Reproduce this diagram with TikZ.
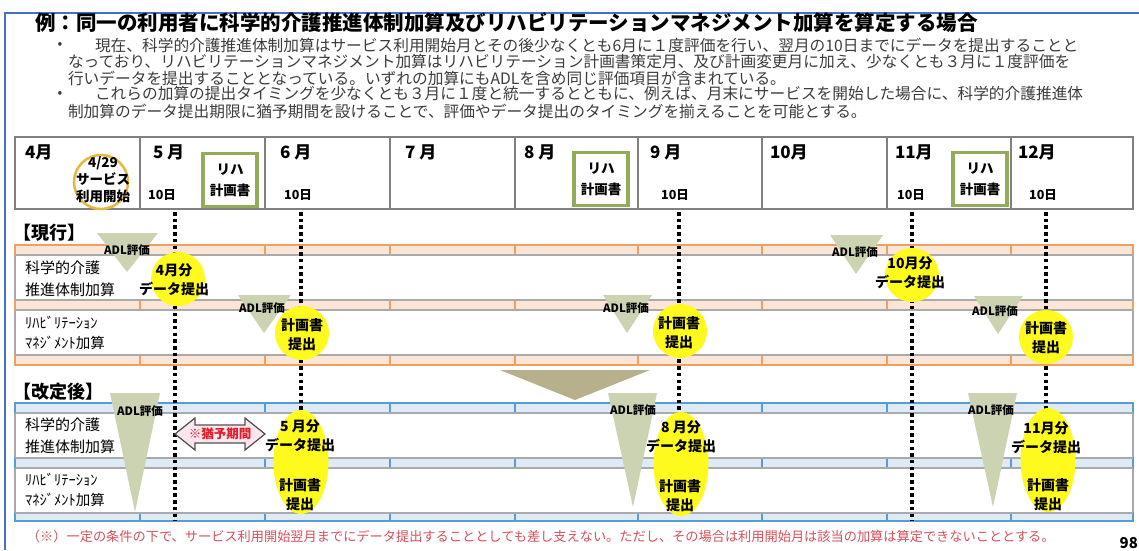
\documentclass[tikz,border=0pt]{standalone}
\usepackage{fontspec}
\setmainfont{Noto Sans CJK JP}
\usetikzlibrary{shapes.geometric}
\definecolor{frameblue}{RGB}{68,114,196}
\definecolor{txtgray}{RGB}{60,60,60}
\definecolor{hdrline}{RGB}{128,128,128}
\definecolor{rehagreen}{RGB}{146,172,90}
\definecolor{gold}{RGB}{232,184,60}
\definecolor{peach}{RGB}{251,229,214}
\definecolor{orangeline}{RGB}{237,160,100}
\definecolor{lblue}{RGB}{222,235,247}
\definecolor{blueline}{RGB}{91,155,213}
\definecolor{rowgray}{RGB}{170,170,170}
\definecolor{sage}{RGB}{204,211,178}
\definecolor{khaki}{RGB}{184,176,140}
\definecolor{yel}{RGB}{255,250,30}
\definecolor{notered}{RGB}{214,80,90}
\definecolor{arrowpink}{RGB}{252,230,237}
\definecolor{gracered}{RGB}{222,30,40}
\definecolor{arrowline}{RGB}{80,80,80}
\tikzset{
  body/.style={anchor=west, text=txtgray, font=\fontsize{15.7}{15.7}\selectfont},
  mon/.style={anchor=west, font=\bfseries\fontsize{17}{17}\selectfont},
  daylbl/.style={font=\bfseries\fontsize{12.5}{12.5}\selectfont},
  rehab/.style={draw=rehagreen, line width=3.5pt, minimum width=54pt, minimum height=53pt, align=center, font=\bfseries\fontsize{13.5}{21}\selectfont},
  sect/.style={anchor=west, font=\bfseries\fontsize{18}{18}\selectfont},
  rowlbl/.style={anchor=west, align=left, font=\fontsize{15}{21.5}\selectfont},
  rowlblh/.style={anchor=west, align=left, font=\fontsize{14.5}{19.5}\selectfont},
  adllbl/.style={font=\bfseries\fontsize{11.5}{11.5}\selectfont},
  yc/.style={circle, fill=yel, minimum size=54pt},
  ye/.style={ellipse, fill=yel, minimum width=55pt, minimum height=104pt},
  ytxt/.style={align=center, font=\bfseries\fontsize{14}{19}\selectfont},
  dotln/.style={line width=3.2pt, dash pattern=on 3.5pt off 3.2pt},
  hdr/.style={draw=hdrline, line width=1.5pt},
  oband/.style={fill=peach, draw=orangeline, line width=1.5pt},
  bband/.style={fill=lblue, draw=blueline, line width=1.5pt},
  rowbox/.style={draw=rowgray, line width=2pt},
}
\begin{document}
\begin{tikzpicture}[x=1pt,y=-1pt, every node/.style={inner sep=0pt, outer sep=0pt}]
\useasboundingbox (0,0) rectangle (1139,550);
\fill[white] (0,0) rectangle (1139,550);
% frame
\draw[frameblue, line width=2pt] (5,550) -- (5,13) -- (1139,13);
% title and text
\node[anchor=west, font=\bfseries\fontsize{20.5}{20.5}\selectfont] (title) at (35,23) {例：同一の利用者に科学的介護推進体制加算及びリハビリテーションマネジメント加算を算定する場合};
\node[text=txtgray, font=\fontsize{14}{14}\selectfont] (b1) at (60,45) {•};
\node[body] (l1) at (95,45) {現在、科学的介護推進体制加算はサービス利用開始月とその後少なくとも6月に１度評価を行い、翌月の10日までにデータを提出することと};
\node[body] (l2) at (68,62) {なっており、リハビリテーションマネジメント加算はリハビリテーション計画書策定月、及び計画変更月に加え、少なくとも３月に１度評価を};
\node[body] (l3) at (68,78) {行いデータを提出することとなっている。いずれの加算にもADLを含め同じ評価項目が含まれている。};
\node[text=txtgray, font=\fontsize{14}{14}\selectfont] (b2) at (60,94) {•};
\node[body] (l4) at (95,94) {これらの加算の提出タイミングを少なくとも３月に１度と統一するとともに、例えば、月末にサービスを開始した場合に、科学的介護推進体};
\node[body] (l5) at (68,111) {制加算のデータ提出期限に猶予期間を設けることで、評価やデータ提出のタイミングを揃えることを可能とする。};
% header table
\draw[hdr] (15,137) rectangle (1133,209);
\foreach \x in {140,265,390,515,638,762,887,1011} \draw[hdr] (\x,137) -- (\x,209);
\node[mon] (m4) at (25,152) {4月};
\node[mon] (m5) at (153,152) {5 月};
\node[mon] (m6) at (280,152) {6 月};
\node[mon] (m7) at (405,152) {7 月};
\node[mon] (m8) at (524,152) {8 月};
\node[mon] (m9) at (650,152) {9 月};
\node[mon] (m10) at (770,152) {10月};
\node[mon] (m11) at (895,152) {11月};
\node[mon] (m12) at (1018,152) {12月};
\node[daylbl] (d5) at (162,195) {10日};
\node[daylbl] (d6) at (298,195) {10日};
\node[daylbl] (d9) at (675,195) {10日};
\node[daylbl] (d11) at (911,195) {10日};
\node[daylbl] (d12) at (1043,195) {10日};
\node[rehab] (r5) at (230,180) {リハ\\計画書};
\node[rehab] (r8) at (601,179) {リハ\\計画書};
\node[rehab] (r11) at (980,179) {リハ\\計画書};
\node[circle, draw=gold, line width=2.5pt, minimum size=54pt] (startc) at (101,182) {};
\node[align=center, font=\bfseries\fontsize{13.5}{17}\selectfont] (startt) at (103,180) {4/29\\サービス\\利用開始};
% section current
\node[sect] (cur) at (13,233) {【現行】};
\draw[rowbox] (15,255) rectangle (1133,300);
\draw[rowbox] (15,310) rectangle (1133,355);
\draw[oband] (15,245) rectangle (1133,255);
\draw[oband] (15,300) rectangle (1133,310);
\draw[oband] (15,355) rectangle (1133,365);
\foreach \x in {140,265,390,515,638,762,887,1011} {
  \draw[orangeline, line width=1.5pt] (\x,245) -- (\x,255);
  \draw[orangeline, line width=1.5pt] (\x,300) -- (\x,310);
  \draw[orangeline, line width=1.5pt] (\x,355) -- (\x,365);
}
\draw[rowgray, line width=2pt] (15,255) -- (1133,255) (15,300) -- (1133,300) (15,310) -- (1133,310) (15,355) -- (1133,355);
\node[rowlbl] (k1) at (25,279) {科学的介護\\推進体制加算};
\node[rowlblh] (h1) at (25,333) {ﾘﾊﾋﾞﾘﾃｰｼｮﾝ\\ﾏﾈｼﾞﾒﾝﾄ加算};
% section revised
\node[sect] (rev) at (13,392) {【改定後】};
\draw[rowbox] (15,413) rectangle (1133,458);
\draw[rowbox] (15,468) rectangle (1133,513);
\draw[bband] (15,403) rectangle (1133,413);
\draw[bband] (15,458) rectangle (1133,468);
\draw[bband] (15,513) rectangle (1133,521);
\foreach \x in {140,265,390,515,638,762,887,1011} {
  \draw[blueline, line width=1.5pt] (\x,403) -- (\x,413);
  \draw[blueline, line width=1.5pt] (\x,458) -- (\x,468);
  \draw[blueline, line width=1.5pt] (\x,513) -- (\x,521);
}
\draw[rowgray, line width=2pt] (15,413) -- (1133,413) (15,458) -- (1133,458) (15,468) -- (1133,468) (15,513) -- (1133,513);
\node[rowlbl] (k2) at (25,436) {科学的介護\\推進体制加算};
\node[rowlblh] (h2) at (25,490) {ﾘﾊﾋﾞﾘﾃｰｼｮﾝ\\ﾏﾈｼﾞﾒﾝﾄ加算};
% big transition triangle
\fill[khaki] (500,370) -- (650,370) -- (575,400) -- cycle;
% dotted lines
\coordinate (p5t) at (175,212); \coordinate (p5b) at (175,521);
\coordinate (p6t) at (301,212); \coordinate (p6b) at (301,460);
\coordinate (p9t) at (679,212); \coordinate (p9b) at (679,460);
\coordinate (p11t) at (912,212); \coordinate (p11b) at (912,521);
\coordinate (p12t) at (1046,212); \coordinate (p12b) at (1046,460);
\draw[dotln] (p5t) -- (p5b);
\draw[dotln] (p6t) -- (p6b);
\draw[dotln] (p9t) -- (p9b);
\draw[dotln] (p11t) -- (p11b);
\draw[dotln] (p12t) -- (p12b);
% ADL triangles current
\fill[sage] (97,233) -- (158,233) -- (127,272) -- cycle;
\node[adllbl] (a1) at (127,250) {ADL評価};
\fill[sage] (238,295) -- (291,295) -- (264,333) -- cycle;
\node[adllbl] (a2) at (262,308) {ADL評価};
\fill[sage] (603,295) -- (652,295) -- (627,333) -- cycle;
\node[adllbl] (a3) at (626,308) {ADL評価};
\fill[sage] (830,235) -- (883,235) -- (856,274) -- cycle;
\node[adllbl] (a4) at (855,252) {ADL評価};
\fill[sage] (974,296) -- (1023,296) -- (998,334) -- cycle;
\node[adllbl] (a5) at (995,311) {ADL評価};
% yellow circles current
\node[yc] (c1) at (178,279) {};
\node[ytxt] (c1t) at (174,280) {4月分\\データ提出};
\node[yc] (c2) at (302,333) {};
\node[ytxt] (c2t) at (302,335) {計画書\\提出};
\node[yc] (c3) at (680,331) {};
\node[ytxt] (c3t) at (679,333) {計画書\\提出};
\node[yc] (c4) at (912,275) {};
\node[ytxt] (c4t) at (910,273) {10月分\\データ提出};
\node[yc] (c5) at (1046,337) {};
\node[ytxt] (c5t) at (1046,338) {計画書\\提出};
% revised triangles
\fill[sage] (110,393) -- (160,393) -- (135,512) -- cycle;
\node[adllbl] (u1) at (140,411) {ADL評価};
\fill[sage] (608,393) -- (657,393) -- (633,507) -- cycle;
\node[adllbl] (u2) at (633,410) {ADL評価};
\fill[sage] (968,393) -- (1017,393) -- (993,507) -- cycle;
\node[adllbl] (u3) at (991,410) {ADL評価};
% revised ellipses
\node[ye] (e1) at (301,462) {};
\node[ytxt] (e1a) at (300,436) {5 月分\\データ提出};
\node[ytxt] (e1b) at (300,495) {計画書\\提出};
\node[ye] (e2) at (681,464) {};
\node[ytxt] (e2a) at (681,437) {8 月分\\データ提出};
\node[ytxt] (e2b) at (680,496) {計画書\\提出};
\node[ye] (e3) at (1048,460) {};
\node[ytxt] (e3a) at (1046,438) {11月分\\データ提出};
\node[ytxt] (e3b) at (1048,495) {計画書\\提出};
% grace period arrow
\draw[fill=arrowpink, draw=arrowline, line width=1.2pt] (175,434) -- (195,418) -- (195,425) -- (245,425) -- (245,418) -- (265,434) -- (245,450) -- (245,443) -- (195,443) -- (195,450) -- cycle;
\node[text=gracered, font=\bfseries\fontsize{12.5}{12.5}\selectfont] (grace) at (220,434) {※猶予期間};
% footnote
\node[anchor=west, text=notered, font=\fontsize{13.2}{13.2}\selectfont] (fn) at (27,536) {（※）一定の条件の下で、サービス利用開始翌月までにデータ提出することとしても差し支えない。ただし、その場合は利用開始月は該当の加算は算定できないこととする。};
\node[anchor=east, font=\bfseries\fontsize{15}{15}\selectfont] (pg) at (1138,543) {98};
\end{tikzpicture}
\end{document}
